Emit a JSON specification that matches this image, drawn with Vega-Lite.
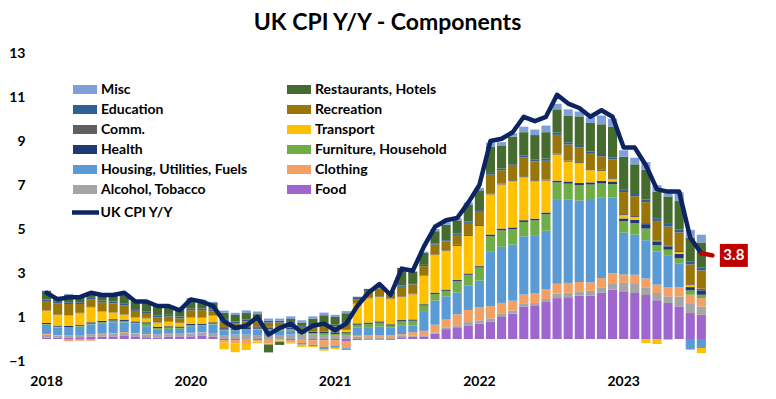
{
  "$schema": "https://vega.github.io/schema/vega-lite/v6.json",
  "width": 677,
  "height": 308,
  "autosize": {"type": "none"},
  "padding": {"left": 41, "top": 53, "right": 58, "bottom": 38},
  "background": "white",
  "config": {"view": {"stroke": null}},
  "title": {"text": "UK CPI Y/Y - Components", "font": "Lato", "fontSize": 23, "fontWeight": "bold", "color": "black", "anchor": "middle", "frame": "group", "baseline": "alphabetic", "offset": 22, "dx": 8, "dy": 29},
  "data": {"values": [
    {"m":"2018-12","f":0.07,"a":0.12,"c":0.04,"h":0.42,"u":0.03,"he":0.05,"t":0.56,"co":0.02,"r":0.42,"e":0.07,"rh":0.38,"mi":0.02,"cpi":2.1},
    {"m":"2019-01","f":0.06,"a":0.10,"c":0.02,"h":0.35,"u":0.03,"he":0.05,"t":0.48,"co":0.02,"r":0.50,"e":0.08,"rh":0.22,"mi":0.03,"cpi":1.8},
    {"m":"2019-02","f":0.07,"a":0.10,"c":-0.10,"h":0.33,"u":0.04,"he":0.05,"t":0.48,"co":0.02,"r":0.50,"e":0.08,"rh":0.35,"mi":0.03,"cpi":1.9},
    {"m":"2019-03","f":0.08,"a":0.10,"c":-0.08,"h":0.38,"u":0.04,"he":0.05,"t":0.52,"co":0.02,"r":0.40,"e":0.08,"rh":0.30,"mi":0.03,"cpi":1.9},
    {"m":"2019-04","f":0.10,"a":0.12,"c":-0.08,"h":0.45,"u":0.03,"he":0.06,"t":0.68,"co":0.02,"r":0.33,"e":0.08,"rh":0.25,"mi":0.02,"cpi":2.1},
    {"m":"2019-05","f":0.10,"a":0.12,"c":0.02,"h":0.48,"u":0.05,"he":0.06,"t":0.42,"co":0.02,"r":0.40,"e":0.08,"rh":0.30,"mi":0.02,"cpi":2.0},
    {"m":"2019-06","f":0.12,"a":0.13,"c":0.01,"h":0.50,"u":0.08,"he":0.06,"t":0.30,"co":0.02,"r":0.40,"e":0.08,"rh":0.32,"mi":0.02,"cpi":2.0},
    {"m":"2019-07","f":0.14,"a":0.13,"c":0.04,"h":0.45,"u":0.06,"he":0.06,"t":0.22,"co":0.02,"r":0.40,"e":0.08,"rh":0.45,"mi":0.03,"cpi":2.1},
    {"m":"2019-08","f":0.12,"a":0.12,"c":0.03,"h":0.42,"u":0.05,"he":0.06,"t":0.18,"co":0.02,"r":0.28,"e":0.08,"rh":0.36,"mi":0.02,"cpi":1.7},
    {"m":"2019-09","f":0.08,"a":0.12,"c":0.02,"h":0.36,"u":0.12,"he":0.06,"t":0.18,"co":0.02,"r":0.22,"e":0.08,"rh":0.42,"mi":0.02,"cpi":1.7},
    {"m":"2019-10","f":0.06,"a":0.12,"c":0.02,"h":0.22,"u":0.08,"he":0.06,"t":0.18,"co":0.02,"r":0.22,"e":0.08,"rh":0.45,"mi":0.02,"cpi":1.5},
    {"m":"2019-11","f":0.10,"a":0.12,"c":0.02,"h":0.22,"u":0.06,"he":0.06,"t":0.20,"co":0.02,"r":0.22,"e":0.08,"rh":0.38,"mi":0.02,"cpi":1.5},
    {"m":"2019-12","f":0.12,"a":0.12,"c":0.00,"h":0.22,"u":0.05,"he":0.06,"t":0.15,"co":0.02,"r":0.20,"e":0.08,"rh":0.32,"mi":0.02,"cpi":1.3},
    {"m":"2020-01","f":0.12,"a":0.14,"c":0.02,"h":0.30,"u":0.04,"he":0.06,"t":0.30,"co":0.02,"r":0.30,"e":0.08,"rh":0.38,"mi":0.10,"cpi":1.8},
    {"m":"2020-02","f":0.14,"a":0.14,"c":0.02,"h":0.30,"u":0.04,"he":0.06,"t":0.26,"co":0.02,"r":0.33,"e":0.08,"rh":0.35,"mi":0.05,"cpi":1.7},
    {"m":"2020-03","f":0.10,"a":0.14,"c":0.00,"h":0.42,"u":0.04,"he":0.06,"t":0.30,"co":0.02,"r":0.18,"e":0.08,"rh":0.30,"mi":0.05,"cpi":1.5},
    {"m":"2020-04","f":-0.05,"a":0.18,"c":-0.12,"h":0.22,"u":0.03,"he":0.06,"t":-0.30,"co":0.05,"r":0.25,"e":0.08,"rh":0.32,"mi":0.10,"cpi":0.8},
    {"m":"2020-05","f":-0.05,"a":0.20,"c":-0.15,"h":0.20,"u":0.02,"he":0.06,"t":-0.40,"co":0.05,"r":0.18,"e":0.08,"rh":0.30,"mi":0.10,"cpi":0.5},
    {"m":"2020-06","f":-0.03,"a":0.20,"c":-0.15,"h":0.22,"u":0.02,"he":0.06,"t":-0.32,"co":0.05,"r":0.25,"e":0.08,"rh":0.30,"mi":0.12,"cpi":0.6},
    {"m":"2020-07","f":-0.06,"a":0.18,"c":-0.05,"h":0.25,"u":0.04,"he":0.06,"t":-0.08,"co":0.05,"r":0.22,"e":0.08,"rh":0.25,"mi":0.12,"cpi":1.0},
    {"m":"2020-08","f":0.00,"a":0.18,"c":-0.20,"h":0.22,"u":0.06,"he":0.06,"t":-0.05,"co":0.03,"r":0.20,"e":0.08,"rh":-0.36,"mi":0.10,"cpi":0.2},
    {"m":"2020-09","f":-0.02,"a":0.18,"c":-0.05,"h":0.22,"u":0.06,"he":0.06,"t":-0.05,"co":0.03,"r":0.20,"e":0.08,"rh":-0.15,"mi":0.10,"cpi":0.5},
    {"m":"2020-10","f":-0.06,"a":0.20,"c":-0.10,"h":0.20,"u":0.06,"he":0.06,"t":-0.05,"co":0.03,"r":0.18,"e":0.08,"rh":0.10,"mi":0.12,"cpi":0.7},
    {"m":"2020-11","f":-0.03,"a":0.20,"c":-0.15,"h":-0.08,"u":0.06,"he":0.06,"t":-0.10,"co":0.03,"r":0.20,"e":0.08,"rh":0.12,"mi":0.10,"cpi":0.3},
    {"m":"2020-12","f":-0.06,"a":0.20,"c":-0.20,"h":-0.06,"u":0.06,"he":0.06,"t":-0.05,"co":0.03,"r":0.25,"e":0.08,"rh":0.25,"mi":0.10,"cpi":0.6},
    {"m":"2021-01","f":-0.06,"a":0.18,"c":-0.30,"h":-0.12,"u":0.08,"he":0.06,"t":-0.05,"co":0.03,"r":0.30,"e":0.08,"rh":0.35,"mi":0.12,"cpi":0.7},
    {"m":"2021-02","f":-0.05,"a":0.15,"c":-0.25,"h":-0.10,"u":0.08,"he":0.06,"t":-0.05,"co":0.03,"r":0.25,"e":0.08,"rh":0.35,"mi":0.10,"cpi":0.4},
    {"m":"2021-03","f":-0.12,"a":0.15,"c":-0.30,"h":-0.08,"u":0.10,"he":0.06,"t":0.10,"co":0.03,"r":0.25,"e":0.08,"rh":0.40,"mi":0.10,"cpi":0.7},
    {"m":"2021-04","f":-0.05,"a":0.10,"c":0.05,"h":0.38,"u":0.12,"he":0.06,"t":0.90,"co":0.03,"r":0.15,"e":0.08,"rh":0.05,"mi":0.00,"cpi":1.5},
    {"m":"2021-05","f":0.00,"a":0.08,"c":0.08,"h":0.38,"u":0.15,"he":0.06,"t":1.10,"co":0.03,"r":0.30,"e":0.05,"rh":0.05,"mi":-0.04,"cpi":2.1},
    {"m":"2021-06","f":0.00,"a":0.08,"c":0.10,"h":0.38,"u":0.18,"he":0.06,"t":1.12,"co":0.03,"r":0.35,"e":0.06,"rh":0.10,"mi":-0.04,"cpi":2.5},
    {"m":"2021-07","f":0.00,"a":0.08,"c":0.08,"h":0.35,"u":0.10,"he":0.06,"t":1.14,"co":0.03,"r":0.20,"e":0.06,"rh":0.05,"mi":-0.05,"cpi":2.0},
    {"m":"2021-08","f":0.08,"a":0.06,"c":0.08,"h":0.38,"u":0.20,"he":0.06,"t":1.06,"co":0.03,"r":0.42,"e":0.06,"rh":0.80,"mi":0.00,"cpi":3.2},
    {"m":"2021-09","f":0.10,"a":0.06,"c":0.15,"h":0.30,"u":0.22,"he":0.06,"t":1.14,"co":0.03,"r":0.42,"e":0.06,"rh":0.52,"mi":0.02,"cpi":3.1},
    {"m":"2021-10","f":0.12,"a":0.05,"c":0.20,"h":0.90,"u":0.25,"he":0.06,"t":1.30,"co":0.03,"r":0.40,"e":0.06,"rh":0.55,"mi":0.05,"cpi":4.2},
    {"m":"2021-11","f":0.24,"a":0.06,"c":0.35,"h":1.10,"u":0.30,"he":0.06,"t":1.70,"co":0.03,"r":0.45,"e":0.06,"rh":0.55,"mi":0.10,"cpi":5.1},
    {"m":"2021-12","f":0.45,"a":0.08,"c":0.35,"h":1.06,"u":0.25,"he":0.06,"t":1.75,"co":0.03,"r":0.40,"e":0.06,"rh":0.70,"mi":0.12,"cpi":5.4},
    {"m":"2022-01","f":0.50,"a":0.12,"c":0.50,"h":1.00,"u":0.50,"he":0.06,"t":1.55,"co":0.05,"r":0.45,"e":0.06,"rh":0.60,"mi":0.10,"cpi":5.5},
    {"m":"2022-02","f":0.62,"a":0.15,"c":0.55,"h":1.10,"u":0.50,"he":0.06,"t":1.70,"co":0.05,"r":0.55,"e":0.06,"rh":0.75,"mi":0.12,"cpi":6.2},
    {"m":"2022-03","f":0.70,"a":0.15,"c":0.60,"h":1.20,"u":0.60,"he":0.06,"t":1.82,"co":0.05,"r":0.60,"e":0.08,"rh":0.90,"mi":0.10,"cpi":7.0},
    {"m":"2022-04","f":0.80,"a":0.14,"c":0.55,"h":2.50,"u":0.68,"he":0.08,"t":1.82,"co":0.05,"r":0.85,"e":0.08,"rh":1.20,"mi":0.18,"cpi":9.0},
    {"m":"2022-05","f":1.00,"a":0.14,"c":0.50,"h":2.55,"u":0.75,"he":0.08,"t":2.00,"co":0.05,"r":0.60,"e":0.08,"rh":1.05,"mi":0.15,"cpi":9.1},
    {"m":"2022-06","f":1.15,"a":0.14,"c":0.45,"h":2.55,"u":0.70,"he":0.08,"t":2.10,"co":0.05,"r":0.70,"e":0.08,"rh":1.20,"mi":0.15,"cpi":9.4},
    {"m":"2022-07","f":1.48,"a":0.14,"c":0.40,"h":2.65,"u":0.65,"he":0.08,"t":1.95,"co":0.05,"r":0.85,"e":0.10,"rh":1.05,"mi":0.25,"cpi":10.1},
    {"m":"2022-08","f":1.50,"a":0.14,"c":0.45,"h":2.60,"u":0.70,"he":0.08,"t":1.70,"co":0.05,"r":0.85,"e":0.10,"rh":1.10,"mi":0.25,"cpi":9.9},
    {"m":"2022-09","f":1.68,"a":0.14,"c":0.45,"h":2.65,"u":0.75,"he":0.08,"t":1.45,"co":0.05,"r":0.85,"e":0.10,"rh":1.20,"mi":0.30,"cpi":10.1},
    {"m":"2022-10","f":1.86,"a":0.20,"c":0.45,"h":3.85,"u":0.76,"he":0.08,"t":1.18,"co":0.05,"r":0.85,"e":0.10,"rh":1.06,"mi":0.25,"cpi":11.1},
    {"m":"2022-11","f":1.90,"a":0.20,"c":0.45,"h":3.78,"u":0.73,"he":0.10,"t":0.90,"co":0.05,"r":0.73,"e":0.10,"rh":1.20,"mi":0.30,"cpi":10.7},
    {"m":"2022-12","f":1.97,"a":0.20,"c":0.42,"h":3.70,"u":0.70,"he":0.10,"t":0.90,"co":0.05,"r":0.68,"e":0.10,"rh":1.30,"mi":0.22,"cpi":10.5},
    {"m":"2023-01","f":1.97,"a":0.22,"c":0.38,"h":3.75,"u":0.70,"he":0.10,"t":0.55,"co":0.05,"r":0.70,"e":0.10,"rh":1.30,"mi":0.25,"cpi":10.1},
    {"m":"2023-02","f":2.10,"a":0.25,"c":0.42,"h":3.65,"u":0.65,"he":0.12,"t":0.45,"co":0.05,"r":0.62,"e":0.10,"rh":1.35,"mi":0.40,"cpi":10.4},
    {"m":"2023-03","f":2.24,"a":0.30,"c":0.45,"h":3.45,"u":0.60,"he":0.12,"t":0.10,"co":0.05,"r":0.85,"e":0.10,"rh":1.40,"mi":0.35,"cpi":10.1},
    {"m":"2023-04","f":2.17,"a":0.38,"c":0.38,"h":1.90,"u":0.53,"he":0.12,"t":0.15,"co":0.05,"r":1.00,"e":0.10,"rh":1.50,"mi":0.30,"cpi":8.7},
    {"m":"2023-05","f":2.09,"a":0.45,"c":0.38,"h":1.82,"u":0.53,"he":0.15,"t":0.12,"co":0.05,"r":0.90,"e":0.10,"rh":1.35,"mi":0.30,"cpi":8.7},
    {"m":"2023-06","f":2.00,"a":0.35,"c":0.40,"h":1.74,"u":0.53,"he":0.20,"t":-0.18,"co":0.05,"r":0.95,"e":0.12,"rh":1.35,"mi":0.35,"cpi":7.9},
    {"m":"2023-07","f":1.76,"a":0.33,"c":0.38,"h":1.50,"u":0.30,"he":0.15,"t":-0.23,"co":0.05,"r":0.90,"e":0.12,"rh":1.20,"mi":0.30,"cpi":6.8},
    {"m":"2023-08","f":1.64,"a":0.30,"c":0.42,"h":1.45,"u":0.25,"he":0.15,"t":-0.04,"co":0.05,"r":0.85,"e":0.12,"rh":1.25,"mi":0.30,"cpi":6.7},
    {"m":"2023-09","f":1.48,"a":0.45,"c":0.42,"h":1.09,"u":0.23,"he":0.20,"t":0.08,"co":0.05,"r":0.85,"e":0.12,"rh":1.30,"mi":0.40,"cpi":6.7},
    {"m":"2023-10","f":1.18,"a":0.45,"c":0.38,"h":-0.48,"u":0.20,"he":0.15,"t":0.08,"co":0.05,"r":0.90,"e":0.12,"rh":1.10,"mi":0.35,"cpi":4.6},
    {"m":"2023-11","f":1.10,"a":0.38,"c":0.38,"h":-0.41,"u":0.15,"he":0.20,"t":-0.23,"co":0.08,"r":0.83,"e":0.12,"rh":1.15,"mi":0.35,"cpi":3.9}
  ]},
  "encoding": {
    "x": {
      "field": "m", "type": "ordinal",
      "scale": {"domain": ["2018-12","2019-01","2019-02","2019-03","2019-04","2019-05","2019-06","2019-07","2019-08","2019-09","2019-10","2019-11","2019-12","2020-01","2020-02","2020-03","2020-04","2020-05","2020-06","2020-07","2020-08","2020-09","2020-10","2020-11","2020-12","2021-01","2021-02","2021-03","2021-04","2021-05","2021-06","2021-07","2021-08","2021-09","2021-10","2021-11","2021-12","2022-01","2022-02","2022-03","2022-04","2022-05","2022-06","2022-07","2022-08","2022-09","2022-10","2022-11","2022-12","2023-01","2023-02","2023-03","2023-04","2023-05","2023-06","2023-07","2023-08","2023-09","2023-10","2023-11","2023-12"], "paddingInner": 0.18, "paddingOuter": 0.09},
      "axis": {"title": null, "values": ["2018-12","2020-01","2021-02","2022-03","2023-04"], "labelExpr": "slice(datum.value, 0, 4)", "labelAngle": 0, "domain": false, "ticks": false, "grid": false, "labelFont": "Lato", "labelFontSize": 14, "labelFontWeight": "bold", "labelColor": "black", "labelPadding": 13, "labelBaseline": "top"}
    }
  },
  "layer": [
    {
      "transform": [
        {"fold": ["f","a","c","h","u","he","t","co","r","e","rh","mi"], "as": ["k","v"]},
        {"lookup": "k", "from": {"data": {"values": [
          {"k":"f","name":"Food","rank":1},
          {"k":"a","name":"Alcohol, Tobacco","rank":2},
          {"k":"c","name":"Clothing","rank":3},
          {"k":"h","name":"Housing, Utilities, Fuels","rank":4},
          {"k":"u","name":"Furniture, Household","rank":5},
          {"k":"he","name":"Health","rank":6},
          {"k":"t","name":"Transport","rank":7},
          {"k":"co","name":"Comm.","rank":8},
          {"k":"r","name":"Recreation","rank":9},
          {"k":"e","name":"Education","rank":10},
          {"k":"rh","name":"Restaurants, Hotels","rank":11},
          {"k":"mi","name":"Misc","rank":12}
        ]}, "key": "k", "fields": ["name","rank"]}}
      ],
      "mark": {"type": "bar"},
      "encoding": {
        "y": {"field": "v", "type": "quantitative", "stack": "zero",
          "scale": {"domain": [-1, 13], "nice": false, "zero": false},
          "axis": {"title": null, "values": [-1,1,3,5,7,9,11,13], "domain": false, "ticks": false, "grid": false, "labelFont": "Lato", "labelFontSize": 14, "labelFontWeight": "bold", "labelColor": "black", "labelPadding": 16, "labelFlush": false}},
        "fill": {"field": "name", "type": "nominal",
          "scale": {"domain": ["Misc","Education","Comm.","Health","Housing, Utilities, Fuels","Alcohol, Tobacco","Restaurants, Hotels","Recreation","Transport","Furniture, Household","Clothing","Food"],
                    "range": ["#7F9FD8","#2E5F96","#5F5F5F","#1F3A70","#5B9BD5","#A5A5A5","#466B2E","#9A7609","#FFC000","#70AD47","#F4A064","#A066CF"]},
          "legend": {"title": null, "orient": "none", "legendX": 34, "legendY": 26.5, "columns": 2, "columnPadding": 39, "rowPadding": 3, "padding": 0,
            "symbolType": "M-1.2,-0.45H1.2V0.45H-1.2Z", "symbolSize": 400, "symbolStrokeWidth": 0, "symbolOpacity": 1,
            "labelFont": "Lato", "labelFontSize": 14, "labelFontWeight": "bold", "labelColor": "black", "labelOffset": 6, "labelLimit": 300}},
        "order": {"field": "rank", "type": "quantitative"}
      }
    },
    {
      "mark": {"type": "line", "strokeWidth": 4.5, "strokeJoin": "round", "strokeCap": "round"},
      "encoding": {
        "y": {"field": "cpi", "type": "quantitative"},
        "stroke": {"datum": "UK CPI Y/Y", "type": "nominal", "scale": {"range": ["#0D2463"]},
          "legend": {"title": null, "orient": "none", "legendX": 28.5, "legendY": 143.5, "padding": 0,
            "symbolType": "stroke", "symbolSize": 729, "symbolStrokeWidth": 4.5,
            "labelFont": "Lato", "labelFontSize": 14, "labelFontWeight": "bold", "labelColor": "black", "labelOffset": -1}}
      }
    },
    {
      "data": {"values": [{"m":"2023-11","f":3.9},{"m":"2023-12","f":3.8}]},
      "mark": {"type": "line", "color": "#C00000", "strokeWidth": 4.5, "strokeCap": "round"},
      "encoding": {"y": {"field": "f", "type": "quantitative"}}
    },
    {
      "data": {"values": [{"m":"2023-12","f":3.8,"lab":"3.8"}]},
      "mark": {"type": "point", "shape": "M0.74,-1.15H3.54V1.15H0.74Z", "size": 400, "filled": true, "color": "#C00000", "opacity": 1, "strokeWidth": 0},
      "encoding": {"y": {"field": "f", "type": "quantitative"}}
    },
    {
      "data": {"values": [{"m":"2023-12","f":3.8,"lab":"3.8"}]},
      "mark": {"type": "text", "dx": 21.4, "font": "Lato", "fontSize": 15, "fontWeight": "bold", "color": "white", "align": "center", "baseline": "middle"},
      "encoding": {"y": {"field": "f", "type": "quantitative"}, "text": {"field": "lab"}}
    }
  ]
}
